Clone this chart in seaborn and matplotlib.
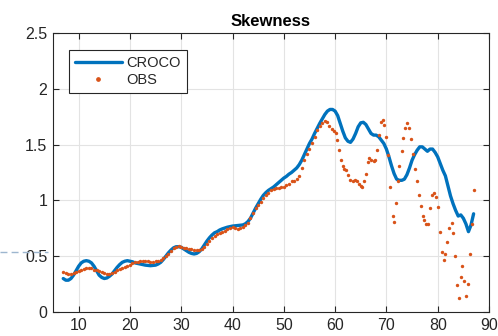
import numpy as np
import pandas as pd
import matplotlib
matplotlib.use("Agg")
import matplotlib.pyplot as plt
from matplotlib.lines import Line2D
import seaborn as sns

# Modelled skewness (CROCO)
croco_x = [7.0, 7.5, 8.0, 8.5, 9.0, 9.5, 10.0, 10.5, 11.0, 11.5, 12.0, 12.5, 13.0, 13.5,
           14.0, 14.5, 15.0, 15.5, 16.0, 16.5, 17.0, 17.5, 18.0, 18.5, 19.0, 19.5, 20.0,
           20.5, 21.0, 22.0, 23.0, 24.0, 25.0, 25.5, 26.0, 26.5, 27.0, 27.5, 28.0, 28.5,
           29.0, 29.5, 30.0, 30.5, 31.0, 31.5, 32.0, 32.5, 33.0, 33.5, 34.0, 34.5, 35.0,
           35.5, 36.0, 36.5, 37.0, 37.5, 38.0, 39.0, 40.0, 41.0, 42.0, 42.5, 43.0, 43.5,
           44.0, 44.5, 45.0, 45.5, 46.0, 46.5, 47.0, 47.5, 48.0, 48.5, 49.0, 49.5, 50.0,
           50.5, 51.0, 51.5, 52.0, 52.5, 53.0, 53.5, 54.0, 54.5, 55.0, 55.5, 56.0, 56.5,
           57.0, 57.5, 58.0, 58.5, 59.0, 59.5, 60.0, 60.5, 61.0, 61.5, 62.0, 62.5, 63.0,
           63.5, 64.0, 64.5, 65.0, 65.5, 66.0, 66.5, 67.0, 67.5, 68.0, 68.5, 69.0, 69.5,
           70.0, 70.5, 71.0, 71.5, 72.0, 72.5, 73.0, 73.5, 74.0, 74.5, 75.0, 75.5, 76.0,
           76.5, 77.0, 77.5, 78.0, 78.5, 79.0, 79.5, 80.0, 80.5, 81.0, 81.5, 82.0, 82.5,
           83.0, 83.5, 84.0, 84.5, 85.0, 85.5, 86.0, 86.5, 87.0]
croco_y = [0.30, 0.285, 0.285, 0.30, 0.33, 0.37, 0.41, 0.44, 0.455, 0.46, 0.455, 0.44, 0.41, 0.37,
           0.33, 0.31, 0.30, 0.305, 0.32, 0.34, 0.37, 0.40, 0.425, 0.445, 0.455, 0.46, 0.455,
           0.45, 0.44, 0.43, 0.42, 0.415, 0.42, 0.43, 0.445, 0.47, 0.50, 0.53, 0.555, 0.575,
           0.585, 0.585, 0.58, 0.565, 0.55, 0.535, 0.525, 0.52, 0.525, 0.54, 0.565, 0.60, 0.635,
           0.665, 0.69, 0.71, 0.72, 0.735, 0.745, 0.76, 0.77, 0.775, 0.78, 0.79, 0.81, 0.84,
           0.885, 0.93, 0.97, 1.01, 1.045, 1.07, 1.09, 1.105, 1.12, 1.14, 1.16, 1.18, 1.20,
           1.215, 1.235, 1.25, 1.27, 1.29, 1.32, 1.36, 1.41, 1.46, 1.51, 1.55, 1.60, 1.645,
           1.69, 1.73, 1.77, 1.80, 1.815, 1.815, 1.80, 1.76, 1.69, 1.62, 1.56, 1.53, 1.52,
           1.55, 1.60, 1.66, 1.695, 1.70, 1.68, 1.64, 1.60, 1.585, 1.585, 1.57, 1.54, 1.51,
           1.46, 1.39, 1.31, 1.24, 1.19, 1.18, 1.18, 1.19, 1.23, 1.29, 1.36, 1.41, 1.45,
           1.48, 1.48, 1.46, 1.44, 1.46, 1.46, 1.43, 1.39, 1.33, 1.27, 1.22, 1.13, 1.04,
           0.97, 0.91, 0.86, 0.87, 0.84, 0.79, 0.72, 0.78, 0.88]

# Observed skewness (OBS)
obs_x = [7.0, 7.5, 8.0, 8.5, 9.0, 9.5, 10.0, 10.5, 11.0, 11.5, 12.0, 12.5, 13.0, 13.5,
         14.0, 14.5, 15.0, 15.5, 16.0, 16.5, 17.0, 17.5, 18.0, 18.5, 19.0, 19.5, 20.0,
         20.5, 21.0, 21.5, 22.0, 22.5, 23.0, 23.5, 24.0, 24.5, 25.0, 25.5, 26.0, 26.5,
         27.0, 27.5, 28.0, 28.5, 29.0, 29.5, 30.0, 30.5, 31.0, 31.5, 32.0, 32.5, 33.0,
         33.5, 34.0, 34.5, 35.0, 35.5, 36.0, 36.5, 37.0, 37.5, 38.0, 38.5, 39.0, 39.5,
         40.0, 40.5, 41.0, 41.5, 42.0, 42.5, 43.0, 43.5, 44.0, 44.5, 45.0, 45.5, 46.0,
         46.5, 47.0, 47.5, 48.0, 48.5, 49.0, 49.5, 50.0, 50.5, 51.0, 51.5, 52.0, 52.5,
         53.0, 53.5, 54.0, 54.5, 55.0, 55.5, 56.0, 56.5, 57.0, 57.5, 58.0, 58.5,
         58.9, 59.4, 59.8, 60.1, 60.4, 60.8, 61.1, 61.5, 61.8, 62.2, 62.5, 63.0, 63.4,
         63.8, 64.2, 64.6, 65.0, 65.3, 65.6, 66.0, 66.4, 66.7, 67.0, 67.5, 67.8, 68.2,
         68.6, 69.0, 69.3, 69.6, 70.0, 70.4, 70.7, 71.2, 71.5, 71.8, 72.2, 72.5, 73.0,
         73.3, 73.6, 74.1, 74.5, 74.8, 75.2, 75.6, 76.0, 76.3, 76.7, 77.1, 77.4, 77.7,
         78.2, 78.5, 78.9, 79.3, 79.6, 80.0, 80.4, 80.8, 81.2, 81.5, 81.9, 82.3, 82.7,
         83.0, 83.4, 83.8, 84.2, 84.6, 84.8, 85.2, 85.5, 85.9, 86.3, 86.6, 87.0]
obs_y = [0.355, 0.35, 0.345, 0.345, 0.35, 0.355, 0.365, 0.375, 0.385, 0.39, 0.39, 0.39, 0.38, 0.375,
         0.365, 0.355, 0.35, 0.345, 0.345, 0.35, 0.36, 0.375, 0.385, 0.39, 0.40, 0.41, 0.42,
         0.435, 0.445, 0.45, 0.455, 0.455, 0.455, 0.455, 0.45, 0.45, 0.455, 0.46, 0.465, 0.48,
         0.50, 0.52, 0.545, 0.57, 0.585, 0.59, 0.585, 0.575, 0.57, 0.565, 0.565, 0.56, 0.555,
         0.555, 0.565, 0.585, 0.61, 0.635, 0.66, 0.685, 0.70, 0.71, 0.72, 0.73, 0.745, 0.755,
         0.76, 0.75, 0.745, 0.75, 0.765, 0.78, 0.80, 0.84, 0.89, 0.93, 0.96, 0.99, 1.02,
         1.05, 1.07, 1.09, 1.10, 1.11, 1.11, 1.12, 1.12, 1.14, 1.15, 1.17, 1.17, 1.19,
         1.22, 1.29, 1.36, 1.42, 1.46, 1.51, 1.57, 1.63, 1.67, 1.69, 1.71, 1.70,
         1.67, 1.64, 1.62, 1.60, 1.54, 1.45, 1.36, 1.31, 1.28, 1.27, 1.23, 1.18, 1.17,
         1.18, 1.17, 1.15, 1.13, 1.12, 1.17, 1.24, 1.34, 1.38, 1.36, 1.35, 1.36, 1.45,
         1.59, 1.70, 1.72, 1.68, 1.57, 1.41, 1.12, 0.86, 0.81, 0.98, 1.17, 1.31, 1.44,
         1.56, 1.65, 1.69, 1.65, 1.55, 1.42, 1.28, 1.17, 1.05, 0.95, 0.86, 0.82, 0.79,
         0.79, 0.93, 1.05, 1.07, 1.03, 0.94, 0.72, 0.54, 0.47, 0.52, 0.63, 0.75, 0.80,
         0.71, 0.50, 0.24, 0.13, 0.31, 0.41, 0.28, 0.14, 0.25, 0.52, 0.79, 1.09]

x_ticks = [10, 20, 30, 40, 50, 60, 70, 80, 90]
y_ticks = [0, 0.5, 1, 1.5, 2, 2.5]
y_tick_labels = ["0", "0.5", "1", "1.5", "2", "2.5"]

croco = pd.DataFrame({"x": croco_x, "y": croco_y})
obs = pd.DataFrame({"x": obs_x, "y": obs_y})

sns.set_style("ticks")
plt.rcParams["font.family"] = ["Liberation Sans", "DejaVu Sans"]

fig = plt.figure(figsize=(4.98, 3.36), dpi=100)
ax = fig.add_axes([0.1064, 0.0714, 0.8755, 0.8304])

blue = "#0072BD"
orange = "#D95319"
ink = "#262626"

sns.lineplot(data=croco, x="x", y="y", ax=ax, color=blue, linewidth=2.4,
             label="CROCO", zorder=3)
sns.scatterplot(data=obs, x="x", y="y", ax=ax, color=orange, s=6, linewidth=0,
                marker="o", label="OBS", zorder=4)

ax.set_xlim(5, 90)
ax.set_ylim(0, 2.5)
ax.set_xticks(x_ticks)
ax.set_yticks(y_ticks)
ax.set_yticklabels(y_tick_labels)
ax.set_xlabel("")
ax.set_ylabel("")
ax.grid(True, color="#e3e3e3", linewidth=0.8)
ax.set_axisbelow(True)
for side in ["top", "right", "bottom", "left"]:
    ax.spines[side].set_visible(True)
    ax.spines[side].set_color(ink)
    ax.spines[side].set_linewidth(0.8)
ax.tick_params(direction="in", length=4, width=0.8, color=ink, labelcolor=ink,
               labelsize=11.5, top=True, right=True, pad=4)
ax.set_title("Skewness", fontsize=12, fontweight="bold", color="black", pad=5)

handles = [Line2D([], [], color=blue, linewidth=2.4),
           Line2D([], [], color=orange, marker="o", markersize=2.4, linestyle="none")]
leg = ax.legend(handles, ["CROCO", "OBS"], loc="upper left",
                bbox_to_anchor=(0.037, 0.939), borderaxespad=0.0,
                fontsize=10.5, handlelength=3.2,
                handletextpad=0.35, borderpad=0.4, labelspacing=0.2,
                frameon=True, fancybox=False, framealpha=1)
leg.get_frame().set_edgecolor(ink)
leg.get_frame().set_linewidth(0.8)
for t in leg.get_texts():
    t.set_color(ink)

# Dashed guide at the left margin
fig.add_artist(Line2D([0.0, 0.097], [0.25, 0.25], transform=fig.transFigure,
                      color="#9db6cf", linewidth=1.0, linestyle=(0, (5, 3))))

fig.savefig("out.png", dpi=100)
